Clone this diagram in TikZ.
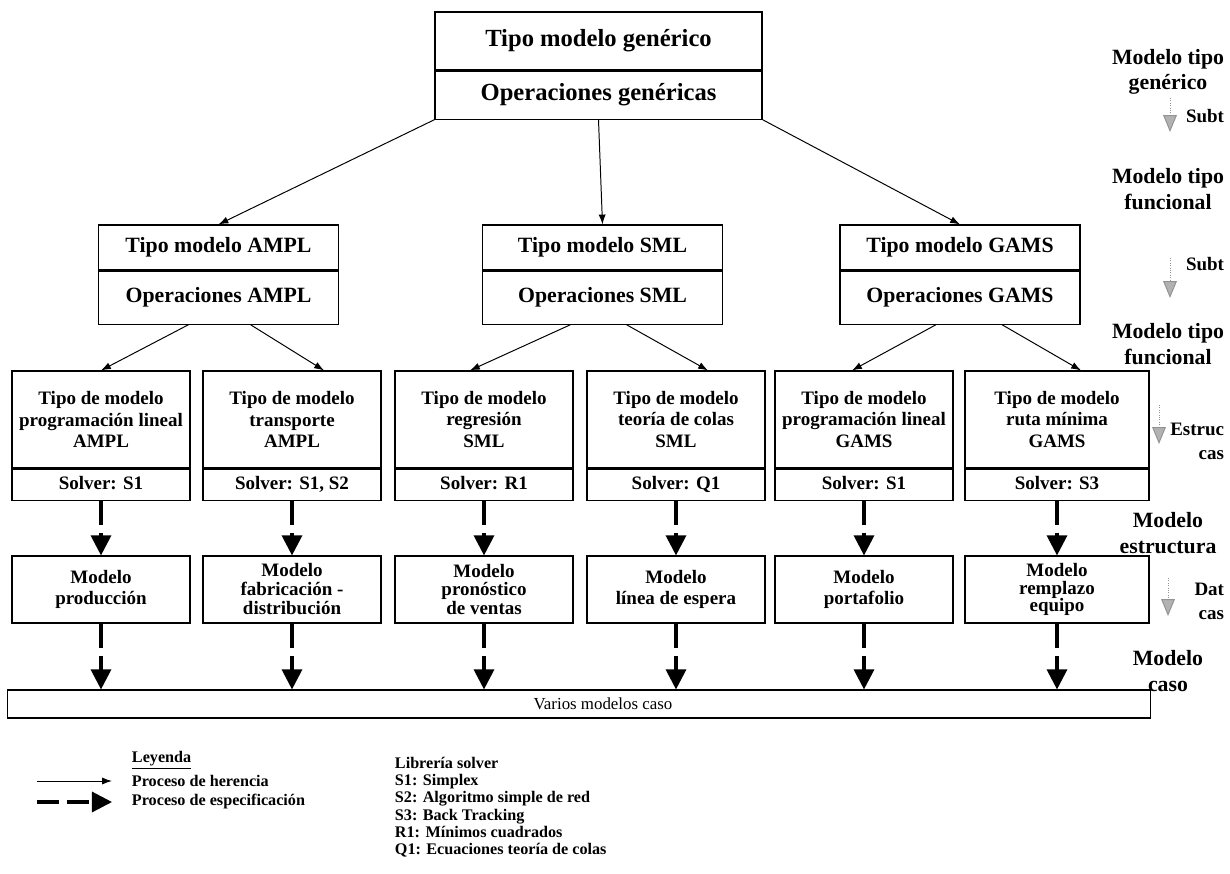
\documentclass[tikz,border=0pt]{standalone}
\usepackage{fontspec}
\setmainfont{Liberation Serif}
\usetikzlibrary{arrows.meta, positioning, calc}

\begin{document}
\begin{tikzpicture}[
  x=0.025cm, y=-0.025cm,
  box/.style={
    rectangle, draw=black, line width=0.8pt,
    align=center, inner sep=2pt,
    font=\bfseries\fontsize{13.5}{15}\selectfont},
  genbox/.style={box, minimum width=8.175cm,
    font=\bfseries\fontsize{17.5}{20}\selectfont},
  langbox/.style={box, minimum width=6cm,
    font=\bfseries\fontsize{15.5}{18}\selectfont},
  typebox/.style={box, minimum width=4.45cm, minimum height=2.425cm},
  solverbox/.style={box, minimum width=4.45cm, minimum height=0.775cm,
    text height=0.8em, text depth=0.14em},
  casebox/.style={box, minimum width=4.45cm, minimum height=1.675cm},
  barbox/.style={box, minimum width=28.55cm, minimum height=0.7cm,
    font=\fontsize{12}{14}\selectfont},
  inherit/.style={-{Latex[length=7pt,width=5pt]}, line width=0.7pt},
  specify/.style={-{Triangle[length=0.5cm,width=0.5cm]},
    line width=2.2pt, dash pattern=on 0.6cm off 0.2cm},
  levelarrow/.style={-{Triangle[length=0.42cm,width=0.34cm,fill=gray!60]},
    draw=gray!85, densely dotted, line width=0.7pt},
  level/.style={align=center, font=\bfseries\fontsize{15.5}{18}\selectfont},
  steplabel/.style={anchor=east, align=right,
    font=\bfseries\fontsize{13.5}{17}\selectfont},
  note/.style={anchor=west, align=left,
    font=\bfseries\fontsize{11.5}{12.3}\selectfont},
]
\useasboundingbox (0,0) rectangle (1230,874);

%% ---- Generic model type ----
\node[genbox, minimum height=1.45cm] (gen) at (598.5,41) {Tipo modelo genérico};
\node[genbox, minimum height=1.2cm, below=0pt of gen] (genops) {Operaciones genéricas};

%% ---- Functional model types ----
\node[langbox, minimum height=1.125cm] (ampl) at (218.5,247.5) {Tipo modelo AMPL};
\node[langbox, minimum height=1.325cm, below=0pt of ampl] (amplops) {Operaciones AMPL};

\node[langbox, minimum height=1.125cm] (sml) at (602.5,247.5) {Tipo modelo SML};
\node[langbox, minimum height=1.325cm, below=0pt of sml] (smlops) {Operaciones SML};

\node[langbox, minimum height=1.125cm] (gams) at (960,247.5) {Tipo modelo GAMS};
\node[langbox, minimum height=1.325cm, below=0pt of gams] (gamsops) {Operaciones GAMS};

%% ---- Structure model types ----
\node[typebox] (plampl) at (101,419.5) {Tipo de modelo\\programación lineal\\AMPL};
\node[solverbox, below=0pt of plampl] (plamplsol) {Solver: S1};

\node[typebox] (trampl) at (292,419.5) {Tipo de modelo\\transporte\\AMPL};
\node[solverbox, below=0pt of trampl] (tramplsol) {Solver: S1, S2};

\node[typebox] (regsml) at (484,419.5) {Tipo de modelo\\regresión\\SML};
\node[solverbox, below=0pt of regsml] (regsmlsol) {Solver: R1};

\node[typebox] (colsml) at (676,419.5) {Tipo de modelo\\teoría de colas\\SML};
\node[solverbox, below=0pt of colsml] (colsmlsol) {Solver: Q1};

\node[typebox] (plgams) at (864,419.5) {Tipo de modelo\\programación lineal\\GAMS};
\node[solverbox, below=0pt of plgams] (plgamssol) {Solver: S1};

\node[typebox, minimum width=4.6cm] (rtgams) at (1057,419.5) {Tipo de modelo\\ruta mínima\\GAMS};
\node[solverbox, minimum width=4.6cm, below=0pt of rtgams] (rtgamssol) {Solver: S3};

%% ---- Case models ----
\node[casebox] (prod) at (101,589.5) {Modelo\\producción};
\node[casebox, font=\bfseries\fontsize{13.5}{13.5}\selectfont] (fabr) at (292,589.5) {Modelo\\fabricación -\\distribución};
\node[casebox, font=\bfseries\fontsize{13.5}{13.5}\selectfont] (pron) at (484,589.5) {Modelo\\pronóstico\\de ventas};
\node[casebox] (espe) at (676,589.5) {Modelo\\línea de espera};
\node[casebox] (port) at (864,589.5) {Modelo\\portafolio};
\node[casebox, minimum width=4.6cm, font=\bfseries\fontsize{13.5}{12.5}\selectfont] (remp) at (1057,589.5) {Modelo\\remplazo\\equipo};

\node[barbox] (varios) at (579,704) {\hspace*{1.2cm}Varios modelos caso};

%% ---- Inheritance arrows ----
\draw[inherit] (genops.south west) -- (ampl.north);
\draw[inherit] (genops.south) -- (sml.north);
\draw[inherit] (genops.south east) -- (gams.north);

\draw[inherit] ([xshift=-0.75cm]amplops.south) -- (plampl.north);
\draw[inherit] ([xshift=0.8cm]amplops.south) -- ([xshift=0.8cm]trampl.north);
\draw[inherit] ([xshift=-0.8cm]smlops.south) -- ([xshift=-0.35cm]regsml.north);
\draw[inherit] ([xshift=0.6cm]smlops.south) -- ([xshift=0.8cm]colsml.north);
\draw[inherit] ([xshift=-0.6cm]gamsops.south) -- ([xshift=-0.3cm]plgams.north);
\draw[inherit] ([xshift=1.05cm]gamsops.south) -- ([xshift=0.6cm]rtgams.north);

%% ---- Specification arrows ----
\draw[specify] (plamplsol.south) -- (prod.north);
\draw[specify] (tramplsol.south) -- (fabr.north);
\draw[specify] (regsmlsol.south) -- (pron.north);
\draw[specify] (colsmlsol.south) -- (espe.north);
\draw[specify] (plgamssol.south) -- (port.north);
\draw[specify] (rtgamssol.south) -- (remp.north);

\draw[specify] (prod.south) -- (prod |- varios.north);
\draw[specify] (fabr.south) -- (fabr |- varios.north);
\draw[specify] (pron.south) -- (pron |- varios.north);
\draw[specify] (espe.south) -- (espe |- varios.north);
\draw[specify] (port.south) -- (port |- varios.north);
\draw[specify] (remp.south) -- (remp |- varios.north);

%% ---- Model levels (right column) ----
\node[level] (lvgen) at (1168,72) {Modelo tipo\\genérico};
\node[level] (lvfun) at (1168,189) {Modelo tipo\\funcional};
\node[level] (lvfunb) at (1168,344) {Modelo tipo\\funcional};
\node[level] (lvest) at (1168,533) {Modelo\\estructura};
\node[level] (lvcaso) at (1168,671) {Modelo\\caso};

\coordinate (stpA) at (1170,98);  \coordinate (stpB) at (1170,132);
\coordinate (stqA) at (1170,258); \coordinate (stqB) at (1170,298);
\coordinate (strA) at (1159,405); \coordinate (strB) at (1159,444);
\coordinate (stsA) at (1168,578); \coordinate (stsB) at (1168,616);
\draw[levelarrow] (stpA) -- (stpB);
\draw[levelarrow] (stqA) -- (stqB);
\draw[levelarrow] (strA) -- (strB);
\draw[levelarrow] (stsA) -- (stsB);

\node[steplabel] (subt) at (1229,116) {Subt};
\node[steplabel] (subtb) at (1229,264) {Subt};
\node[steplabel] (estrc) at (1229,441) {Estruc\\cas};
\node[steplabel] (datc) at (1229,601) {Dat\\cas};

%% ---- Legend ----
\node[note] (leyenda) at (127,760) {\underline{Leyenda}};
\node[note] (herencia) at (127,781) {Proceso de herencia};
\node[note] (especif) at (127,802) {Proceso de especificación};
\coordinate (herA) at (37,781); \coordinate (herB) at (112,781);
\coordinate (espA) at (37,802); \coordinate (espB) at (112,802);
\draw[inherit] (herA) -- (herB);
\draw[specify, dash pattern=on 0.55cm off 0.2cm] (espA) -- (espB);

\node[note, anchor=north west] (libreria) at (390,752) {Librería solver\\S1: Simplex\\S2: Algoritmo simple de red\\S3: Back Tracking\\R1: Mínimos cuadrados\\Q1: Ecuaciones teoría de colas};

\end{tikzpicture}
\end{document}
